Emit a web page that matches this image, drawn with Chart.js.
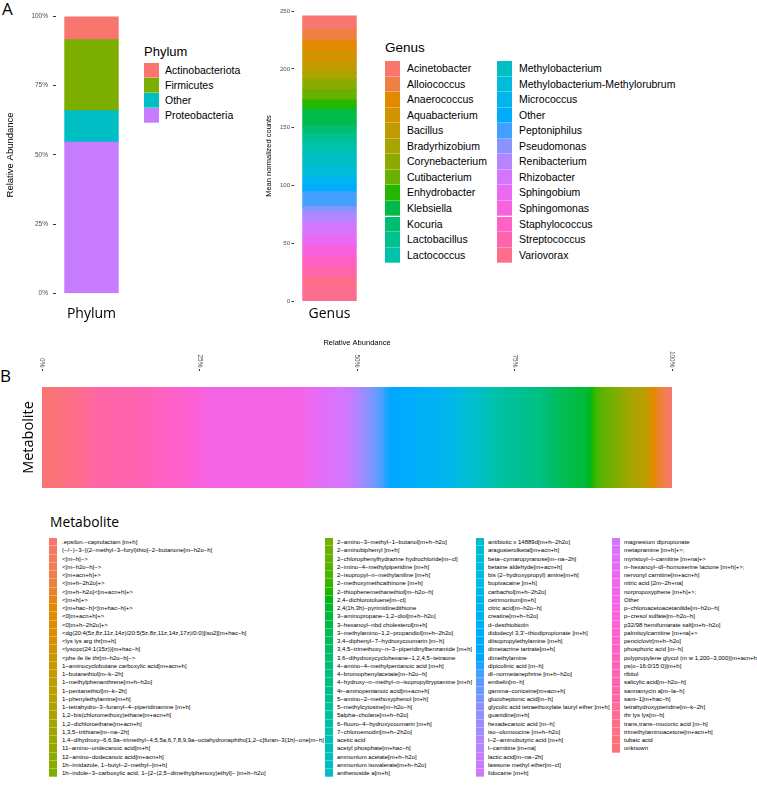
<!DOCTYPE html>
<html>
<head>
<meta charset="utf-8">
<script src="https://cdn.jsdelivr.net/npm/chart.js@4.4.1/dist/chart.umd.min.js"></script>
<style>
  html, body { margin: 0; padding: 0; background: #fff; }
  #page { position: relative; width: 757px; height: 787px; overflow: hidden; font-family: "Liberation Sans", Arial, sans-serif; }
  canvas { position: absolute; }
  .tag { position: absolute; font-family: "Open Sans", sans-serif; font-size: 17px; line-height: 17px; }
  .leg-title, .lab { position: absolute; white-space: nowrap; color: #000; }
  .key { position: absolute; box-shadow: inset 0 -1px 0 rgba(255,255,255,0.3); }
</style>
</head>
<body>
<div id="page">
  <div class="tag" style="left:2px;top:0px">A</div>
  <div class="tag" style="left:0px;top:367px">B</div>
  <canvas id="phylum" width="131" height="330" style="left:0px;top:0px"></canvas>
  <canvas id="genus" width="119" height="330" style="left:250px;top:0px"></canvas>
  <canvas id="metabolite" width="757" height="175" style="left:0px;top:336px"></canvas>
  <div id="legends"></div>
</div>
<script>
// ---- data ----
const phylumNames = ["Actinobacteriota", "Firmicutes", "Other", "Proteobacteria"];
const phylumValues = [8.4, 25.7, 11.4, 54.5];

const genusNames = [
  "Acinetobacter", "Alloiococcus", "Anaerococcus", "Aquabacterium", "Bacillus",
  "Bradyrhizobium", "Corynebacterium", "Cutibacterium", "Enhydrobacter", "Klebsiella",
  "Kocuria", "Lactobacillus", "Lactococcus", "Methylobacterium",
  "Methylobacterium-Methylorubrum", "Micrococcus", "Other", "Peptoniphilus",
  "Pseudomonas", "Renibacterium", "Rhizobacter", "Sphingobium", "Sphingomonas",
  "Staphylococcus", "Streptococcus", "Variovorax"
];
const genusValues = [
  11.5, 9.8, 9.5, 9.5, 8.0, 6.3, 8.6, 9.2, 8.0, 14.4, 6.3, 7.2, 10.0, 11.5,
  8.6, 7.2, 5.7, 13.0, 5.7, 8.6, 10.0, 9.5, 9.2, 8.6, 8.6, 21.0
];

const metaboliteNames = [
  ".epsilon.-caprolactam [m+h]",
  "(-/-)-3-[(2-methyl-3-furyl)thio]-2-butanone[m-h2o-h]",
  "<[m-h]->",
  "<[m-h2o-h]->",
  "<[m+acn+h]+>",
  "<[m+h-2h2o]+>",
  "<[m+h-h2o]<[m+acn+h]+>",
  "<[m+h]+>",
  "<[m+hac-h]<[m+hac-h]+>",
  "<0]m+acn+h]+>",
  "<0]m+h-2h2o]+>",
  "<dg(20:4(5z,8z,11z,14z)/20:5(5z,8z,11z,14z,17z)/0:0)[iso2][m+hac-h]",
  "<lys lys arg thr[m+h]",
  "<lysopc(24:1(15z))[m+hac-h]",
  "<phe ile ile thr[m-h2o-h]->",
  "1-aminocyclobutane carboxylic acid[m+acn+h]",
  "1-butanethiol[m-k-2h]",
  "1-methylphenanthrene[m+h-h2o]",
  "1-pentanethiol[m-k-2h]",
  "1-phenylethylamine[m+h]",
  "1-tetrahydro-3-furanyl-4-piperidinamine [m+h]",
  "1,2-bis(chloromethoxy)ethane[m+acn+h]",
  "1,2-dichloroethane[m+acn+h]",
  "1,3,5-trithiane[m-na-2h]",
  "1,4-dihydroxy-6,6,9a-trimethyl-4,5,5a,6,7,8,9,9a-octahydronaphtho[1,2-c]furan-3(1h)-one[m-h]",
  "11-amino-undecanoic acid[m+h]",
  "12-amino-dodecanoic acid[m+acn+h]",
  "1h-imidazole, 1-butyl-2-methyl-[m+h]",
  "1h-indole-3-carboxylic acid, 1-[2-(2,5-dimethylphenoxy)ethyl]- [m+h-h2o]",
  "2-amino-3-methyl-1-butanol[m+h-h2o]",
  "2-aminobiphenyl [m+h]",
  "2-chlorophenylhydrazine hydrochloride[m-cl]",
  "2-imino-4-methylpiperidine [m+h]",
  "2-isopropyl-n-methylaniline [m+h]",
  "2-methoxymethcathinone [m+h]",
  "2-thiophenemethanethiol[m-h2o-h]",
  "2,4-dichlorotoluene[m-cl]",
  "2,4(1h,3h)-pyrimidinedithione",
  "3-aminopropane-1,2-diol[m+h-h2o]",
  "3-hexanoyl-nbd cholesterol[m+h]",
  "3-methylamino-1,2-propandiol[m+h-2h2o]",
  "3,4-diphenyl-7-hydroxycoumarin [m-h]",
  "3,4,5-trimethoxy-n-3-piperidinylbenzamide [m+h]",
  "3,6-dihydroxycyclohexane-1,2,4,5-tetraone",
  "4-amino-4-methylpentanoic acid [m+h]",
  "4-bromophenylacetate[m-h2o-h]",
  "4-hydroxy-n-methyl-n-isopropyltryptamine [m+h]",
  "4r-aminopentanoic acid[m+acn+h]",
  "5-amino-2-methoxyphenol [m+h]",
  "5-methylcytosine[m-h2o-h]",
  "5alpha-cholane[m+h-h2o]",
  "6-fluoro-4-hydroxycoumarin [m+h]",
  "7-chloroemodin[m+h-2h2o]",
  "acetic acid",
  "acetyl phosphate[m+hac-h]",
  "ammonium acetate[m+h-h2o]",
  "ammonium isovalerate[m+h-h2o]",
  "anthenoside a[m+h]",
  "antibiotic x 14889d[m+h-2h2o]",
  "aragusterolketal[m+acn+h]",
  "beta-cymaropyranose[m-na-2h]",
  "betaine aldehyde[m+acn+h]",
  "bis (2-hydroxypropyl) amine[m+h]",
  "bupivacaine [m+h]",
  "carbachol[m+h-2h2o]",
  "cetrimonium[m+h]",
  "citric acid[m-h2o-h]",
  "creatine[m+h-h2o]",
  "d-desthiobiotin",
  "didodecyl 3,3'-thiodipropionate [m+h]",
  "diisopropylethylamine [m+h]",
  "dimetacrine tartrate[m+h]",
  "dimethylamine",
  "dipicolinic acid [m-h]",
  "dl-normetanephrine [m+h-h2o]",
  "embelin[m-h]",
  "gamma-coniceine[m+acn+h]",
  "glucoheptonic acid[m-h]",
  "glycolic acid tetraethoxylate lauryl ether [m+h]",
  "guanidine[m+h]",
  "hexadecanoic acid [m-h]",
  "iso-olomoucine [m+h-h2o]",
  "l-2-aminobutyric acid [m+h]",
  "l-carnitine [m+na]",
  "lactic acid[m-na-2h]",
  "lawsone methyl ether[m-cl]",
  "lidocaine [m+h]",
  "magnesium dipropionate",
  "metapramine [m+h]+>;",
  "myristoyl-l-carnitine [m+na]+>",
  "n-hexanoyl-dl-homoserine lactone [m+h]+>;",
  "nervonyl carnitine[m+acn+h]",
  "nitric acid [2m-2h+na]",
  "norpropoxyphene [m+h]+>;",
  "Other",
  "p-chloroacetoacetanilide[m-h2o-h]",
  "p-cresol sulfate[m-h2o-h]",
  "p32/98 hemifumarate salt[m+h-h2o]",
  "palmitoylcarnitine [m+na]+>",
  "penciclovir[m+h-h2o]",
  "phosphoric acid [m-h]",
  "polypropylene glycol (m w 1,200-3,000)[m+acn+h]",
  "ps(o-16:0/15:0)[m+h]",
  "ribitol",
  "salicylic acid[m-h2o-h]",
  "sannamycin a[m-la-h]",
  "sant-1[m+hac-h]",
  "tetrahydroxypteridine[m-k-2h]",
  "thr lys lys[m-h]",
  "trans,trans-muconic acid [m-h]",
  "trimethylaminoacetone[m+acn+h]",
  "tubaic acid",
  "unknown"
];
const metaboliteValues = [
  0.3, 0.3, 0.3, 0.4, 0.4, 0.4, 0.3, 0.3, 0.3, 0.3,
  0.1, 0.1, 0.1, 0.1, 0.1, 0.1, 0.1, 0.3, 0.4, 0.5,
  0.5, 0.5, 0.5, 0.4, 0.4, 0.4, 0.4, 0.4, 0.5,
  0.7, 0.6, 0.6, 0.5, 0.5, 0.4, 0.4, 0.4, 0.4, 1.5,
  1.4, 1.0, 0.8, 0.6, 0.5, 0.5, 0.9, 1.1, 1.4, 1.3,
  1.2, 1.0, 0.9, 0.7, 0.6, 0.5, 0.5, 0.5, 0.5,
  0.8, 0.8, 0.7, 0.6, 0.4, 0.5, 0.6, 0.6, 1.4, 1.5,
  1.6, 1.5, 1.2, 1.0, 0.8, 0.7, 0.6, 0.6, 0.5, 0.5,
  0.5, 0.5, 0.4, 0.4, 0.4, 0.4, 0.4, 0.4, 0.4,
  1.5, 1.3, 1.2, 0.9, 0.9, 0.8, 0.8, 14.5, 1.0, 1.0,
  1.0, 1.2, 1.2, 1.5, 1.5, 1.2, 2.0, 3.5, 2.5, 1.0,
  0.9, 0.8, 1.3, 1.2, 1.5, 2.0
];

const percentTicks = ["0%", "25%", "50%", "75%", "100%"];
const genusTicks = ["0", "50", "100", "150", "200", "250"];

// ---- ggplot-like hue palette ----
function hcl(h, c, l) {
  const WX = 95.047, WY = 100, WZ = 108.883;
  const wu = 4 * WX / (WX + 15 * WY + 3 * WZ);
  const wv = 9 * WY / (WX + 15 * WY + 3 * WZ);
  const rad = h * Math.PI / 180;
  const U = c * Math.cos(rad), V = c * Math.sin(rad);
  const Y = WY * (l > 7.999592 ? Math.pow((l + 16) / 116, 3) : l / 903.3);
  const u = U / (13 * l) + wu, v = V / (13 * l) + wv;
  const X = 9 * Y * u / (4 * v);
  const Z = -X / 3 - 5 * Y + 3 * Y / v;
  const g = (t) => {
    t = t > 0.00304 ? 1.055 * Math.pow(t, 1 / 2.4) - 0.055 : 12.92 * t;
    return Math.round(255 * Math.min(1, Math.max(0, t)));
  };
  const r = g((3.240479 * X - 1.53715 * Y - 0.498535 * Z) / WY);
  const gr = g((-0.969256 * X + 1.875992 * Y + 0.041556 * Z) / WY);
  const b = g((0.055648 * X - 0.204043 * Y + 1.057311 * Z) / WY);
  return "rgb(" + r + "," + gr + "," + b + ")";
}
function huePal(n) {
  const out = [];
  for (let i = 0; i < n; i++) out.push(hcl(15 + (360 / n) * i, 100, 65));
  return out;
}

const phylumColors = huePal(phylumNames.length);
const genusColors = huePal(genusNames.length);
const metaboliteColors = huePal(metaboliteNames.length);

Chart.defaults.font.family = '"Liberation Sans", Arial, sans-serif';
Chart.defaults.animation = false;

function stackSets(names, values, colors, reverse) {
  const sets = names.map((n, i) => ({
    label: n,
    data: [values[i]],
    backgroundColor: colors[i],
    borderWidth: 0,
    inflateAmount: 0.6
  }));
  return reverse ? sets.reverse() : sets;
}

const axisTitleFont = (size) => ({ size: size, family: '"Liberation Sans", Arial, sans-serif' });

// ---- panel A: phylum ----
new Chart(document.getElementById("phylum"), {
  type: "bar",
  data: { labels: ["Phylum"], datasets: stackSets(phylumNames, phylumValues, phylumColors, true) },
  options: {
    responsive: false,
    layout: { padding: { top: 16.5, left: 0, right: 4, bottom: 0 } },
    plugins: { legend: { display: false }, tooltip: { enabled: false } },
    datasets: { bar: { categoryPercentage: 0.75, barPercentage: 1 } },
    scales: {
      x: {
        stacked: true,
        grid: { display: false, drawTicks: false },
        border: { display: false },
        ticks: { font: { size: 14, family: '"Open Sans", sans-serif' }, color: "#000", padding: 12 },
        afterFit: (s) => { s.height = 36.7; }
      },
      y: {
        stacked: true, min: 0, max: 100,
        ticks: { stepSize: 25, callback: (v, i) => percentTicks[i], font: { size: 6.5 }, color: "#4d4d4d", padding: 5 },
        grid: { drawOnChartArea: false, tickLength: 3, color: "#333" },
        border: { display: false },
        title: { display: true, text: "Relative Abundance", font: axisTitleFont(9.5), color: "#000", padding: { top: 4.8, bottom: 0 } },
        afterFit: (s) => { s.width = 56; }
      }
    }
  }
});

// ---- panel A: genus ----
new Chart(document.getElementById("genus"), {
  type: "bar",
  data: { labels: ["Genus"], datasets: stackSets(genusNames, genusValues, genusColors, true) },
  options: {
    responsive: false,
    layout: { padding: { top: 11, left: 10, right: 4, bottom: 0 } },
    plugins: { legend: { display: false }, tooltip: { enabled: false } },
    datasets: { bar: { categoryPercentage: 0.75, barPercentage: 1 } },
    scales: {
      x: {
        stacked: true,
        grid: { display: false, drawTicks: false },
        border: { display: false },
        ticks: { font: { size: 14, family: '"Open Sans", sans-serif' }, color: "#000", padding: 4.5 },
        afterFit: (s) => { s.height = 29; }
      },
      y: {
        stacked: true, min: 0, max: 250,
        ticks: { stepSize: 50, callback: (v, i) => genusTicks[i], font: { size: 6 }, color: "#4d4d4d", padding: 1.5 },
        grid: { drawOnChartArea: false, tickLength: 2.5, color: "#333" },
        border: { display: false },
        title: { display: true, text: "Mean normalized counts", font: axisTitleFont(7.5), color: "#000", padding: { top: 4.5, bottom: 0 } },
        afterFit: (s) => { s.width = 34; }
      }
    }
  }
});

// ---- panel B: metabolite ----
const rotatedTicks = {
  id: "rotatedTicks",
  afterDraw(chart) {
    const sc = chart.scales.x;
    const ctx = chart.ctx;
    ctx.save();
    ctx.fillStyle = "#4d4d4d";
    ctx.font = '6.5px "Liberation Sans", Arial, sans-serif';
    ctx.textAlign = "right";
    ctx.textBaseline = "middle";
    sc.ticks.forEach((t, i) => {
      ctx.save();
      ctx.translate(sc.getPixelForTick(i), chart.chartArea.top - 3.5);
      ctx.rotate(Math.PI / 2);
      ctx.fillText(percentTicks[i], 0, 0);
      ctx.restore();
    });
    ctx.restore();
  }
};

new Chart(document.getElementById("metabolite"), {
  type: "bar",
  data: { labels: ["Metabolite"], datasets: stackSets(metaboliteNames, metaboliteValues, metaboliteColors, true) },
  options: {
    indexAxis: "y",
    responsive: false,
    layout: { padding: { top: 0, left: 0, right: 85, bottom: 7 } },
    plugins: { legend: { display: false }, tooltip: { enabled: false } },
    datasets: { bar: { categoryPercentage: 0.75, barPercentage: 1 } },
    scales: {
      x: {
        position: "top", stacked: true, min: 0, max: 100,
        ticks: { stepSize: 25, display: false },
        grid: { drawOnChartArea: false, tickLength: 2, color: "#333" },
        border: { display: false },
        title: { display: true, text: "Relative Abundance", font: axisTitleFont(7.5), color: "#000", padding: { top: 2, bottom: 0 } },
        afterFit: (s) => { s.height = 35; }
      },
      y: {
        stacked: true,
        ticks: { display: false },
        grid: { display: false },
        border: { display: false },
        title: { display: true, text: "Metabolite", font: { size: 14.5, family: '"Open Sans", sans-serif' }, color: "#000", padding: { top: 20, bottom: 0 } },
        afterFit: (s) => { s.width = 42; }
      }
    }
  },
  plugins: [rotatedTicks]
});

// ---- legends ----
function htmlLegend(host, names, colors, cfg) {
  const t = document.createElement("div");
  t.className = "leg-title";
  t.textContent = cfg.title;
  t.style.font = cfg.titleFont;
  t.style.lineHeight = "1";
  t.style.left = cfg.titleX + "px";
  t.style.top = cfg.titleY + "px";
  host.appendChild(t);
  names.forEach((name, i) => {
    const col = Math.floor(i / cfg.rows), row = i % cfg.rows;
    const top = cfg.keyY + row * cfg.keyH;
    const k = document.createElement("div");
    k.className = "key";
    k.style.left = cfg.keyX[col] + "px";
    k.style.top = top + "px";
    k.style.width = cfg.keyW + "px";
    k.style.height = cfg.keyH + "px";
    k.style.background = colors[i];
    host.appendChild(k);
    const l = document.createElement("div");
    l.className = "lab";
    l.textContent = cfg.minus ? name.replace(/-/g, "\u2212") : name;
    l.style.font = cfg.font;
    l.style.lineHeight = cfg.keyH + "px";
    l.style.left = cfg.textX[col] + "px";
    l.style.top = top + "px";
    l.style.height = cfg.keyH + "px";
    host.appendChild(l);
  });
}

const host = document.getElementById("legends");
htmlLegend(host, phylumNames, phylumColors, {
  title: "Phylum", titleFont: '13px "Liberation Sans", Arial, sans-serif', titleX: 144, titleY: 45,
  rows: 4, keyX: [144], textX: [165], keyY: 63, keyW: 14.5, keyH: 15,
  font: '10.5px "Liberation Sans", Arial, sans-serif'
});
htmlLegend(host, genusNames, genusColors, {
  title: "Genus", titleFont: '13.5px "Liberation Sans", Arial, sans-serif', titleX: 385, titleY: 41,
  rows: 13, keyX: [385, 497], textX: [407, 519], keyY: 61, keyW: 15, keyH: 15.55,
  font: '10.5px "Liberation Sans", Arial, sans-serif'
});
htmlLegend(host, metaboliteNames, metaboliteColors, {
  title: "Metabolite", titleFont: '13.8px "Open Sans", sans-serif', titleX: 50, titleY: 514.7,
  rows: 29, keyX: [49, 325, 476, 612], textX: [62, 337, 488, 624], keyY: 538, keyW: 8, keyH: 8.25,
  font: '6px "Liberation Sans", Arial, sans-serif', minus: true
});
</script>
</body>
</html>
